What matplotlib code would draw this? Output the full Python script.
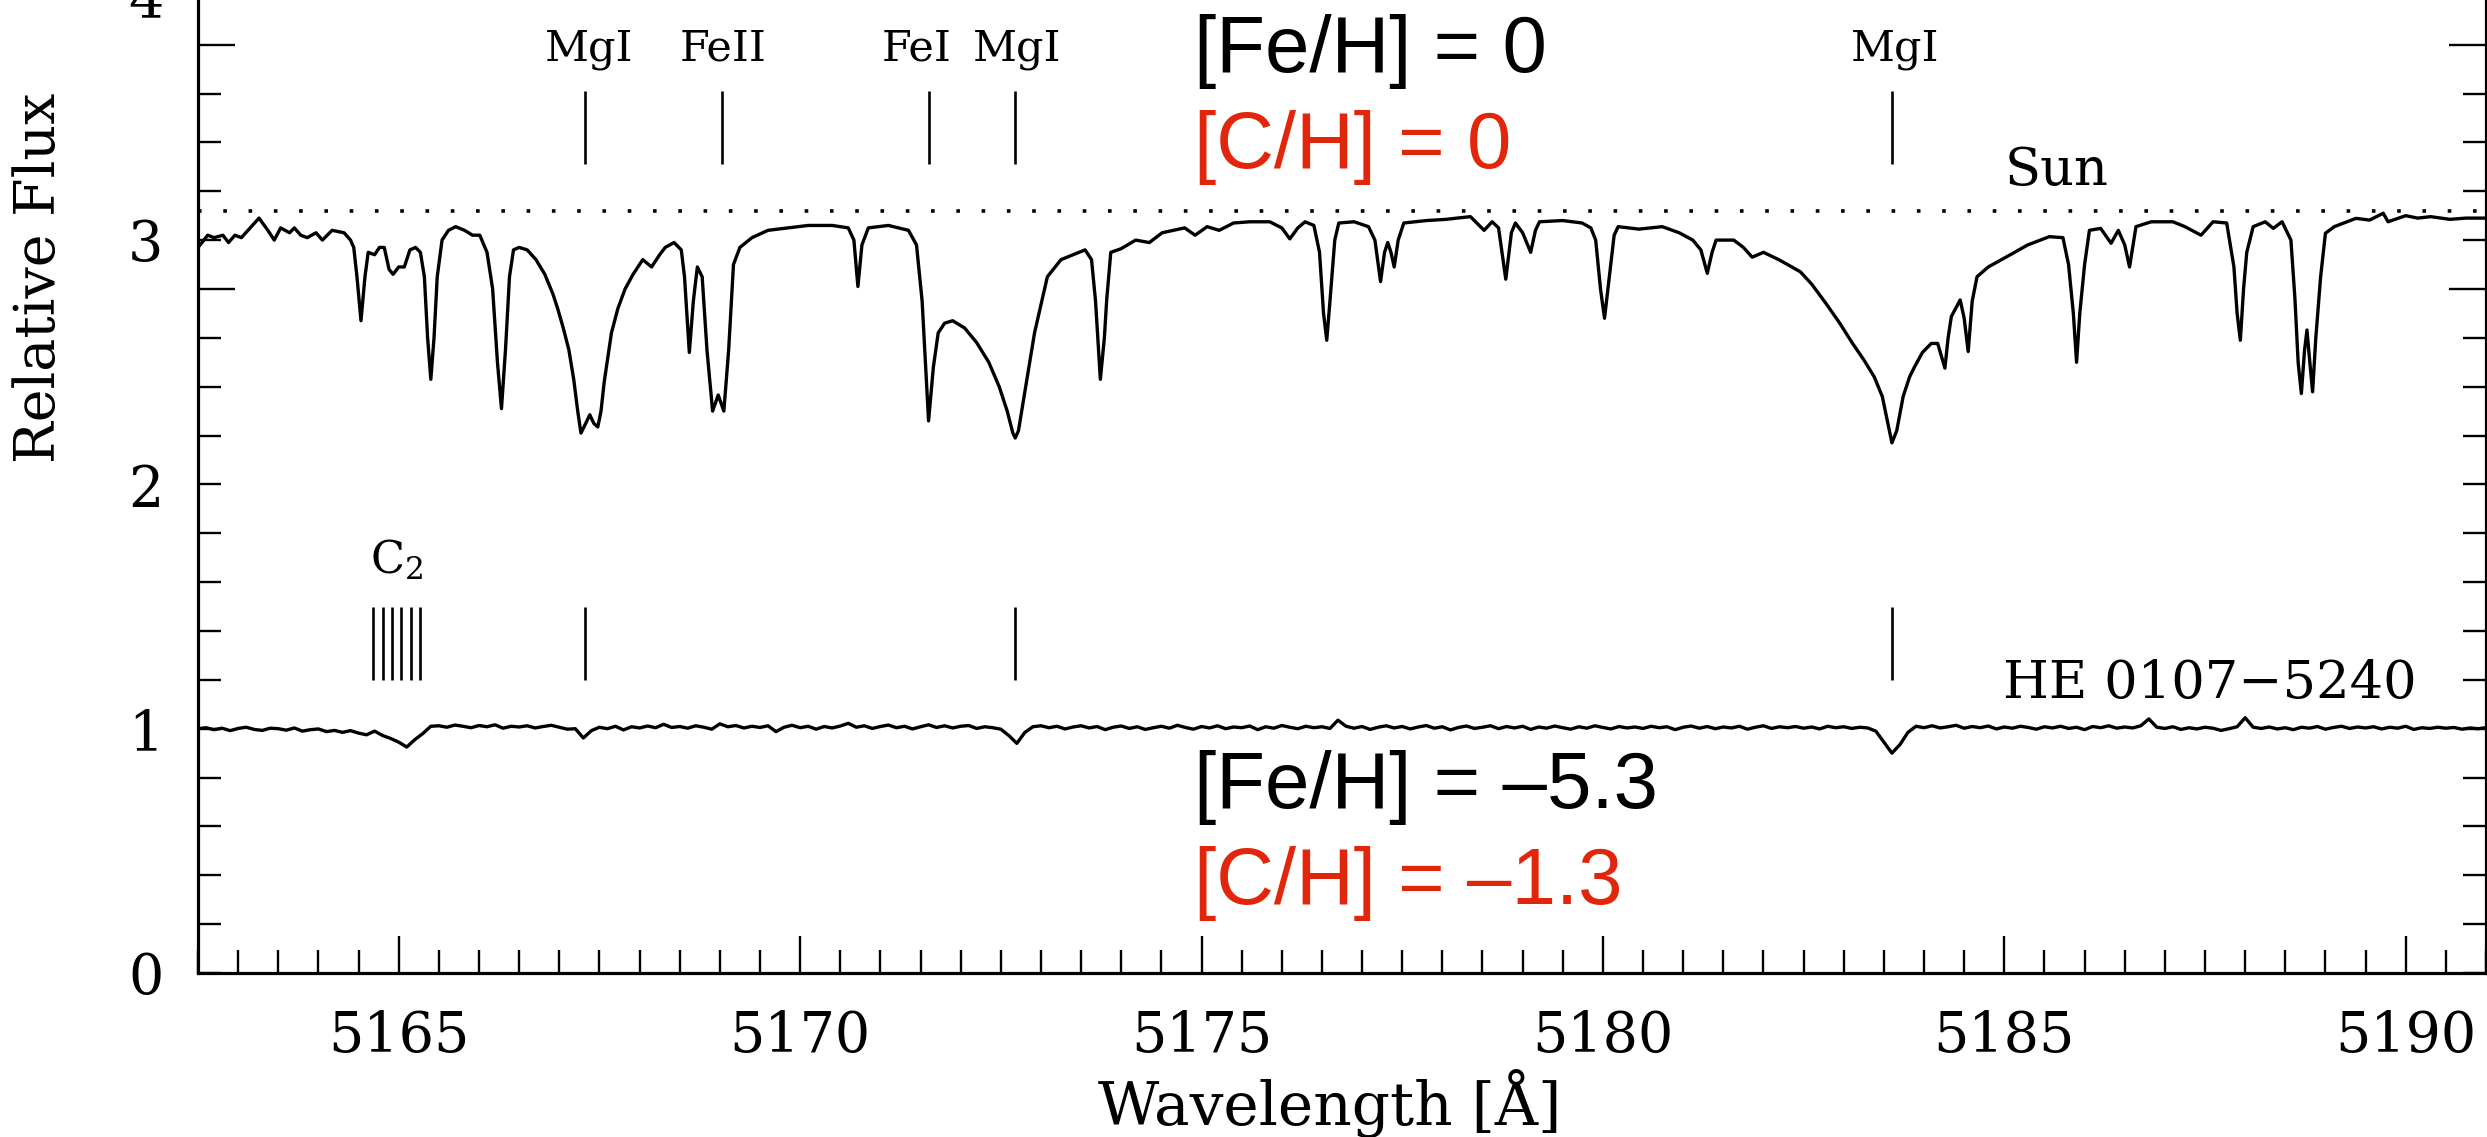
import numpy as np
import matplotlib
matplotlib.use("Agg")
import matplotlib.pyplot as plt
from matplotlib.ticker import MultipleLocator, FixedLocator, FuncFormatter, NullFormatter

plt.rcParams['font.family'] = ['DejaVu Serif']
plt.rcParams['mathtext.fontset'] = 'dejavuserif'

# ---------------- data ----------------
# Solar spectrum (offset so that its continuum sits near 3.1)
sun_wl = [5162.50, 5162.55, 5162.62, 5162.70, 5162.81, 5162.88, 5162.96, 5163.04, 5163.15, 5163.26,
          5163.37, 5163.45, 5163.53, 5163.64, 5163.70, 5163.78, 5163.86, 5163.97, 5164.05, 5164.17,
          5164.32, 5164.40, 5164.44, 5164.48, 5164.53, 5164.58, 5164.62, 5164.70, 5164.76, 5164.82,
          5164.88, 5164.93, 5165.00, 5165.07, 5165.14, 5165.21, 5165.27, 5165.32, 5165.36, 5165.40,
          5165.44, 5165.48, 5165.54, 5165.62, 5165.71, 5165.82, 5165.92, 5166.01, 5166.10, 5166.17,
          5166.23, 5166.28, 5166.33, 5166.38, 5166.43, 5166.50, 5166.60, 5166.71, 5166.82, 5166.92,
          5166.98, 5167.05, 5167.12, 5167.18, 5167.23, 5167.27, 5167.33, 5167.38, 5167.43, 5167.48,
          5167.52, 5167.56, 5167.65, 5167.73, 5167.82, 5167.92, 5168.04, 5168.15, 5168.25, 5168.32,
          5168.43, 5168.52, 5168.56, 5168.62, 5168.67, 5168.72, 5168.78, 5168.84, 5168.91, 5168.98,
          5169.05, 5169.11, 5169.17, 5169.25, 5169.40, 5169.60, 5169.85, 5170.10, 5170.40, 5170.60,
          5170.67, 5170.72, 5170.77, 5170.85, 5171.10, 5171.35, 5171.45, 5171.52, 5171.60, 5171.66,
          5171.72, 5171.80, 5171.90, 5172.05, 5172.20, 5172.35, 5172.48, 5172.58, 5172.65, 5172.68,
          5172.72, 5172.80, 5172.92, 5173.08, 5173.25, 5173.40, 5173.55, 5173.63, 5173.68, 5173.74,
          5173.79, 5173.82, 5173.87, 5174.00, 5174.18, 5174.35, 5174.51, 5174.65, 5174.79, 5174.92,
          5175.07, 5175.22, 5175.40, 5175.60, 5175.85, 5176.00, 5176.10, 5176.20, 5176.29, 5176.40,
          5176.47, 5176.52, 5176.56, 5176.60, 5176.66, 5176.71, 5176.90, 5177.08, 5177.16, 5177.23,
          5177.28, 5177.32, 5177.36, 5177.40, 5177.45, 5177.52, 5177.80, 5178.05, 5178.18, 5178.35,
          5178.52, 5178.62, 5178.70, 5178.79, 5178.86, 5178.91, 5179.00, 5179.10, 5179.16, 5179.21,
          5179.50, 5179.74, 5179.85, 5179.91, 5179.97, 5180.02, 5180.08, 5180.14, 5180.19, 5180.45,
          5180.74, 5180.95, 5181.12, 5181.22, 5181.30, 5181.36, 5181.41, 5181.63, 5181.75, 5181.86,
          5182.00, 5182.19, 5182.30, 5182.46, 5182.60, 5182.78, 5182.95, 5183.11, 5183.25, 5183.38,
          5183.48, 5183.55, 5183.60, 5183.66, 5183.74, 5183.82, 5183.88, 5183.98, 5184.09, 5184.17,
          5184.22, 5184.26, 5184.30, 5184.34, 5184.45, 5184.50, 5184.55, 5184.60, 5184.66, 5184.80,
          5185.02, 5185.29, 5185.56, 5185.73, 5185.80, 5185.86, 5185.90, 5185.94, 5186.00, 5186.06,
          5186.20, 5186.33, 5186.42, 5186.50, 5186.56, 5186.64, 5186.83, 5187.10, 5187.25, 5187.45,
          5187.60, 5187.77, 5187.83, 5187.86, 5187.90, 5187.94, 5187.98, 5188.02, 5188.10, 5188.25,
          5188.35, 5188.46, 5188.57, 5188.62, 5188.66, 5188.70, 5188.74, 5188.77, 5188.80, 5188.84,
          5188.88, 5188.94, 5189.00, 5189.11, 5189.22, 5189.38, 5189.55, 5189.72, 5189.78, 5190.00,
          5190.15, 5190.31, 5190.55, 5190.75, 5191.00]
sun_flux = [2.97, 2.99, 3.02, 3.01, 3.02, 2.99, 3.02, 3.01, 3.05, 3.09,
            3.04, 3.00, 3.05, 3.03, 3.05, 3.02, 3.01, 3.03, 3.00, 3.04,
            3.03, 3.00, 2.97, 2.85, 2.67, 2.85, 2.95, 2.94, 2.97, 2.97,
            2.88, 2.86, 2.89, 2.89, 2.96, 2.97, 2.95, 2.85, 2.60, 2.43,
            2.60, 2.85, 3.00, 3.04, 3.055, 3.04, 3.02, 3.02, 2.95, 2.80,
            2.50, 2.31, 2.55, 2.85, 2.96, 2.97, 2.96, 2.92, 2.86, 2.78,
            2.72, 2.64, 2.55, 2.43, 2.30, 2.21, 2.25, 2.285, 2.25, 2.235,
            2.30, 2.42, 2.62, 2.72, 2.80, 2.86, 2.92, 2.89, 2.94, 2.97,
            2.99, 2.96, 2.85, 2.54, 2.75, 2.89, 2.85, 2.55, 2.30, 2.366,
            2.30, 2.55, 2.90, 2.97, 3.01, 3.04, 3.05, 3.06, 3.06, 3.05,
            3.00, 2.81, 2.98, 3.05, 3.06, 3.04, 2.98, 2.75, 2.26, 2.48,
            2.62, 2.66, 2.67, 2.64, 2.58, 2.50, 2.40, 2.30, 2.21, 2.19,
            2.22, 2.38, 2.62, 2.85, 2.92, 2.94, 2.96, 2.92, 2.75, 2.43,
            2.60, 2.76, 2.95, 2.965, 3.00, 2.99, 3.03, 3.04, 3.05, 3.02,
            3.055, 3.04, 3.07, 3.075, 3.075, 3.05, 3.005, 3.05, 3.075, 3.06,
            2.95, 2.70, 2.59, 2.75, 3.00, 3.07, 3.075, 3.055, 3.00, 2.83,
            2.95, 2.99, 2.95, 2.89, 3.00, 3.07, 3.08, 3.085, 3.09, 3.096,
            3.04, 3.075, 3.05, 2.84, 3.03, 3.07, 3.03, 2.95, 3.04, 3.075,
            3.08, 3.07, 3.05, 3.00, 2.80, 2.68, 2.85, 3.02, 3.055, 3.045,
            3.055, 3.03, 3.00, 2.96, 2.864, 2.95, 3.00, 3.00, 2.97, 2.93,
            2.95, 2.92, 2.90, 2.87, 2.82, 2.74, 2.66, 2.577, 2.51, 2.44,
            2.36, 2.25, 2.17, 2.22, 2.36, 2.44, 2.48, 2.54, 2.577, 2.577,
            2.52, 2.476, 2.60, 2.687, 2.755, 2.68, 2.544, 2.75, 2.85, 2.89,
            2.93, 2.98, 3.014, 3.01, 2.90, 2.70, 2.50, 2.70, 2.90, 3.04,
            3.048, 2.987, 3.04, 2.98, 2.89, 3.055, 3.075, 3.075, 3.055, 3.02,
            3.075, 3.07, 2.95, 2.89, 2.70, 2.59, 2.80, 2.95, 3.055, 3.075,
            3.048, 3.075, 3.00, 2.76, 2.50, 2.372, 2.55, 2.632, 2.52, 2.379,
            2.60, 2.85, 3.028, 3.055, 3.069, 3.089, 3.082, 3.11, 3.075, 3.10,
            3.09, 3.096, 3.085, 3.09, 3.09]

# HE 0107-5240 spectrum, sampled every 0.1 A starting at 5162.5 A
he_start = 5162.5
he_step = 0.1
he_flux = [1.000, 1.004, 0.996, 1.002, 0.992, 1.001, 1.006, 0.997, 0.993, 1.002,
           1.000, 0.994, 1.003, 0.990, 0.996, 0.999, 0.988, 0.993, 0.985, 0.992,
           0.982, 0.975, 0.990, 0.972, 0.960, 0.945, 0.925, 0.955, 0.980, 1.010,
           1.012, 1.006, 1.015, 1.010, 1.004, 1.013, 1.008, 1.016, 1.002, 1.010,
           1.007, 1.012, 1.003, 1.009, 1.014, 1.006, 0.998, 1.000, 0.962, 0.992,
           1.006, 1.000, 1.010, 0.995, 1.008, 1.003, 1.011, 1.004, 1.018, 1.005,
           1.009, 1.002, 1.012, 1.006, 0.998, 1.020, 1.008, 1.013, 1.003, 1.010,
           1.005, 1.012, 0.988, 1.006, 1.014, 1.004, 1.010, 0.998, 1.009, 1.003,
           1.011, 1.022, 1.006, 1.012, 1.001, 1.009, 1.015, 1.004, 1.010, 0.999,
           1.008, 1.016, 1.005, 1.012, 1.003, 1.010, 1.013, 1.001, 1.008, 1.004,
           0.998, 0.972, 0.940, 0.985, 1.008, 1.012, 1.004, 1.010, 0.999, 1.007,
           1.012, 1.003, 1.009, 0.996, 1.006, 1.011, 1.001, 1.008, 0.997, 1.004,
           1.010, 1.002, 1.014, 1.005, 0.998, 1.009, 1.003, 1.012, 1.000, 1.007,
           1.004, 1.011, 0.996, 1.008, 1.002, 1.013, 1.006, 1.000, 1.010, 1.004,
           1.008, 1.001, 1.035, 1.010, 1.002, 1.009, 0.997, 1.006, 1.012, 1.003,
           1.009, 0.999, 1.007, 1.013, 1.002, 1.008, 0.995, 1.005, 1.011, 1.001,
           1.006, 1.012, 1.000, 1.009, 1.003, 1.010, 0.997, 1.007, 1.002, 1.011,
           1.004, 0.998, 1.008, 1.002, 1.012, 1.005, 0.999, 1.009, 1.003, 1.007,
           1.001, 1.010, 1.004, 1.008, 0.996, 1.006, 1.011, 1.002, 1.009, 1.000,
           1.007, 1.003, 1.010, 0.998, 1.006, 1.012, 1.001, 1.008, 1.004, 1.009,
           1.002, 1.007, 0.999, 1.010, 1.004, 1.008, 1.001, 1.006, 1.003, 0.990,
           0.945, 0.900, 0.935, 0.985, 1.010, 1.004, 1.012, 1.003, 1.008, 1.014,
           1.002, 1.009, 1.004, 1.011, 0.999, 1.007, 1.002, 1.010, 1.005, 0.998,
           1.008, 1.003, 1.010, 1.001, 1.006, 0.996, 1.009, 1.004, 1.012, 1.002,
           1.007, 1.003, 1.012, 1.040, 1.006, 1.001, 1.008, 0.997, 1.004, 0.999,
           1.006, 1.002, 0.993, 1.000, 1.008, 1.045, 1.006, 1.001, 1.007, 0.999,
           1.004, 0.996, 1.006, 1.002, 1.009, 0.998, 1.005, 1.010, 1.001, 1.007,
           1.003, 1.008, 0.999, 1.006, 1.002, 1.010, 0.997, 1.004, 1.001, 1.006,
           1.002, 1.005, 0.998, 1.003, 1.000, 1.004]
he_wl = he_start + he_step * np.arange(len(he_flux))

continuum_level = 3.12

upper_ids = ['MgI', 'FeII', 'FeI', 'MgI', 'MgI']
upper_line_wl = [5167.32, 5169.03, 5171.60, 5172.68, 5183.60]
upper_label_wl = [5167.37, 5169.04, 5171.45, 5172.70, 5183.64]
lower_line_wl = [5167.32, 5172.68, 5183.60]
c2_line_wl = [5164.68, 5164.80, 5164.92, 5165.03, 5165.15, 5165.27]

x_major_ticks = [5165, 5170, 5175, 5180, 5185, 5190]
y_long_ticks = [2.8, 3.8]

sun_label = 'Sun'
star_label = 'HE 0107\u22125240'
sun_abund = ['[Fe/H] = 0', '[C/H] = 0']
star_abund = ['[Fe/H] = \u20135.3', '[C/H] = \u20131.3']
abund_colors = ['black', '#e1260c']

# ---------------- figure ----------------
W, H = 2487, 1137
fig = plt.figure(figsize=(W / 100, H / 100), dpi=100)
px_per_unit = 244.3
ax = fig.add_axes([198 / W, (H - 973) / H, 2288 / W, 4.3 * px_per_unit / H])
ax.set_xlim(5162.5, 5191.0)
ax.set_ylim(0, 4.3)

ax.plot(sun_wl, sun_flux, color='black', lw=2.4, solid_joinstyle='round')
ax.plot(he_wl, he_flux, color='black', lw=2.4, solid_joinstyle='round')
ax.axhline(continuum_level, color='black', lw=2.6, linestyle=(0, (1, 6)))

ax.vlines(upper_line_wl, 3.31, 3.61, color='black', lw=1.9)
ax.vlines(lower_line_wl, 1.20, 1.50, color='black', lw=1.9)
ax.vlines(c2_line_wl, 1.20, 1.50, color='black', lw=1.9)

for name, wl in zip(upper_ids, upper_label_wl):
    ax.text(wl, 3.737, name, ha='center', va='baseline', fontsize=31)
ax.text(5164.98, 1.637, r'$\mathrm{C}_{2}$', ha='center', va='baseline', fontsize=32)
ax.text(5185.65, 3.225, sun_label, ha='center', va='baseline', fontsize=38)
ax.text(5187.56, 1.124, star_label, ha='center', va='baseline', fontsize=38)

abund_font = ['Liberation Sans', 'DejaVu Sans']
ax.text(5174.91, 3.69, sun_abund[0], color=abund_colors[0], family=abund_font,
        fontsize=57.5, ha='left', va='baseline')
ax.text(5174.91, 3.295, sun_abund[1], color=abund_colors[1], family=abund_font,
        fontsize=57.5, ha='left', va='baseline')
ax.text(5174.91, 0.675, star_abund[0], color=abund_colors[0], family=abund_font,
        fontsize=57.5, ha='left', va='baseline')
ax.text(5174.91, 0.282, star_abund[1], color=abund_colors[1], family=abund_font,
        fontsize=57.5, ha='left', va='baseline')

# axes styling
for sp in ax.spines.values():
    sp.set_linewidth(2.3)

ax.xaxis.set_major_locator(FixedLocator(x_major_ticks))
ax.xaxis.set_minor_locator(MultipleLocator(0.5))
ax.tick_params(axis='x', which='major', direction='in', length=26.6, width=1.7,
               pad=26, labelsize=40, top=True)
ax.tick_params(axis='x', which='minor', direction='in', length=16.5, width=1.7, top=True)

ax.yaxis.set_major_locator(FixedLocator(y_long_ticks))
ax.yaxis.set_major_formatter(NullFormatter())
ax.yaxis.set_minor_locator(MultipleLocator(0.2))
ax.yaxis.set_minor_formatter(FuncFormatter(
    lambda v, p: f'{int(round(v))}' if abs(v - round(v)) < 1e-6 else ''))
ax.tick_params(axis='y', which='major', direction='in', length=26.6, width=1.7, right=True)
ax.tick_params(axis='y', which='minor', direction='in', length=16.5, width=1.7, right=True,
               labelsize=40, pad=25)

fig.text(40 / W, 1 - 278 / H, 'Relative Flux', rotation=90, ha='center', va='center', fontsize=40)
fig.text(1330 / W, 1 - 1103 / H, 'Wavelength [\u00c5]', ha='center', va='center', fontsize=43)

fig.savefig('out.png', dpi=100)
